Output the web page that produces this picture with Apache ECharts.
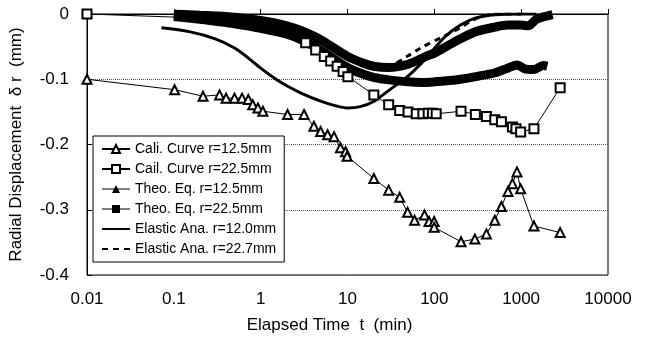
<!DOCTYPE html>
<html>
<head>
<meta charset="utf-8">
<title>Radial Displacement</title>
<script src="https://cdn.jsdelivr.net/npm/echarts@6/dist/echarts.min.js"></script>
<style>
	html, body { margin: 0; padding: 0; background: #fff; }
	#chart { width: 651px; height: 343px; }
</style>
</head>
<body>
<div id="chart"></div>
<script>
/* Cali. Curve r=12.5mm */
var caliT125 = [0.01, 0.102, 0.217, 0.336, 0.40, 0.50, 0.61, 0.72, 0.81, 0.93, 1.06, 2.04, 3.16, 4.1, 4.9, 5.9, 7.0, 8.3, 9.5, 9.9, 20.1, 29.8, 39.9, 49.2, 59.2, 77, 87, 99.5, 99.5, 203, 293, 398, 497, 592, 706, 793, 895, 986, 1403, 2812];
var caliV125 = [-0.1, -0.116, -0.126, -0.124, -0.129, -0.129, -0.129, -0.131, -0.139, -0.144, -0.149, -0.154, -0.154, -0.172, -0.18, -0.185, -0.188, -0.205, -0.211, -0.218, -0.252, -0.270, -0.281, -0.304, -0.316, -0.308, -0.318, -0.318, -0.327, -0.349, -0.345, -0.337, -0.316, -0.295, -0.272, -0.260, -0.242, -0.268, -0.325, -0.335];
/* Cail. Curve r=22.5mm (points under the thick band are not marked) */
var caliT225 = [0.01, 0.5, 1, 1.5, 2, 2.6, 3.3, 4.3, 5.4, 6.4, 7.6, 8.9, 10.1, 20.1, 29.8, 39.9, 49.8, 61.9, 73.8, 85, 95, 105, 203, 297, 398, 497, 592, 793, 870, 986, 1403, 2812];
var caliV225 = [0, -0.008, -0.012, -0.018, -0.025, -0.032, -0.044, -0.055, -0.065, -0.072, -0.080, -0.088, -0.096, -0.124, -0.139, -0.148, -0.150, -0.153, -0.153, -0.152, -0.152, -0.153, -0.149, -0.154, -0.157, -0.162, -0.165, -0.173, -0.176, -0.181, -0.176, -0.113];
/* Theo. Eq. r=12.5mm */
var theoT125 = [0.1, 0.2, 0.3, 0.5, 1, 2, 3, 5, 10, 15, 20, 30, 50, 70, 100, 150, 200, 300, 500, 700, 900, 1100, 1400, 1800, 2000];
var theoV125 = [-0.004, -0.008, -0.011, -0.015, -0.022, -0.031, -0.04, -0.056, -0.082, -0.092, -0.097, -0.101, -0.104, -0.105, -0.104, -0.102, -0.1, -0.096, -0.09, -0.083, -0.078, -0.084, -0.085, -0.079, -0.08];
/* Theo. Eq. r=22.5mm */
var theoT225 = [0.1, 0.2, 0.3, 0.5, 1, 2, 3, 5, 10, 15, 20, 30, 50, 80, 100, 150, 200, 300, 500, 700, 1000, 1200, 1500, 2000, 2300];
var theoV225 = [0, -0.002, -0.003, -0.005, -0.01, -0.018, -0.026, -0.04, -0.065, -0.075, -0.08, -0.082, -0.077, -0.065, -0.06, -0.047, -0.038, -0.027, -0.02, -0.017, -0.017, -0.018, -0.008, -0.003, -0.001];
/* Elastic Ana. r=12.0mm */
var elasT120 = [0.072, 0.15, 0.3, 0.5, 0.7, 1, 1.5, 2, 3, 5, 7, 10, 14, 20, 30, 50, 80, 130, 200, 300, 500, 1000, 1500];
var elasV120 = [-0.021, -0.027, -0.038, -0.052, -0.066, -0.083, -0.1, -0.11, -0.122, -0.134, -0.14, -0.144, -0.142, -0.134, -0.117, -0.095, -0.068, -0.036, -0.017, -0.006, -0.001, 0, 0];
/* Elastic Ana. r=22.7mm */
var elasT227 = [0.1, 0.3, 1, 3, 5, 10, 15, 20, 31, 50, 70, 120, 200, 280, 400, 600, 1000];
var elasV227 = [-0.002, -0.006, -0.015, -0.032, -0.045, -0.063, -0.073, -0.077, -0.078, -0.064, -0.052, -0.036, -0.021, -0.009, -0.002, 0, 0];

var xTicks = [0.01, 0.1, 1, 10, 100, 1000, 10000];
var yTicks = [0, -0.1, -0.2, -0.3, -0.4];

var FONT = "'Liberation Sans', Arial, sans-serif";

function pairs(t, v) {
	var out = [];
	for (var i = 0; i < t.length; i++) {
		out.push([t[i], v[i]]);
	}
	return out;
}

window.onload = function() {
	var chart = echarts.init(document.getElementById('chart'));

	var option = {
		animation: false,
		textStyle: { fontFamily: FONT, color: '#000' },
		grid: {
			left: 85, right: 43, top: 14, bottom: 68,
			show: true, borderColor: '#000', borderWidth: 1
		},
		legend: {
			orient: 'vertical',
			left: 93, top: 136,
			padding: [5, 8],
			itemGap: 4,
			itemWidth: 28,
			itemHeight: 10,
			borderColor: '#000',
			borderWidth: 1,
			backgroundColor: '#fff',
			textStyle: { fontSize: 14, color: '#000', fontFamily: FONT, lineHeight: 16 },
			data: [
				{ name: 'Cali. Curve r=12.5mm' },
				{ name: 'Cail. Curve r=22.5mm' },
				{ name: 'Theo. Eq. r=12.5mm', lineStyle: { width: 1 } },
				{ name: 'Theo. Eq. r=22.5mm', lineStyle: { width: 1 } },
				{ name: 'Elastic Ana. r=12.0mm', itemStyle: { opacity: 0 } },
				{ name: 'Elastic Ana. r=22.7mm', itemStyle: { opacity: 0 } }
			]
		},
		xAxis: {
			type: 'log',
			logBase: 10,
			min: xTicks[0],
			max: xTicks[xTicks.length - 1],
			name: 'Elapsed Time  t  (min)',
			nameLocation: 'middle',
			nameGap: 42,
			nameTextStyle: { fontSize: 17, color: '#000', padding: [0, 36, 0, 0] },
			axisLine: { lineStyle: { color: '#000', width: 1 } },
			axisTick: { inside: true, length: 5, lineStyle: { color: '#000' } },
			axisLabel: {
				fontSize: 17, color: '#000', margin: 16,
				formatter: function(v) { return String(+v.toPrecision(3)); }
			},
			splitLine: { show: false },
			minorTick: { show: false }
		},
		yAxis: {
			type: 'value',
			min: yTicks[yTicks.length - 1],
			max: yTicks[0],
			interval: 0.1,
			name: 'Radial Displacement  δ r  (mm)',
			nameLocation: 'middle',
			nameGap: 62,
			nameTextStyle: { fontSize: 17, color: '#000' },
			axisLine: { show: true, lineStyle: { color: '#000', width: 1 } },
			axisTick: { show: true, inside: true, length: 5, lineStyle: { color: '#000' } },
			axisLabel: {
				fontSize: 17, color: '#000', margin: 18,
				formatter: function(v) { return String(+v.toFixed(1)); }
			},
			splitLine: { show: true, lineStyle: { color: '#555', type: 'dotted', width: 1 } }
		},
		series: [
			{
				name: 'Theo. Eq. r=12.5mm', type: 'line', z: 2,
				data: pairs(theoT125, theoV125),
				smooth: 0.3, symbol: 'triangle', showSymbol: false,
				lineStyle: { color: '#000', width: 9 },
				itemStyle: { color: '#000' }
			},
			{
				name: 'Theo. Eq. r=22.5mm', type: 'line', z: 2,
				data: pairs(theoT225, theoV225),
				smooth: 0.3, symbol: 'rect', showSymbol: false,
				lineStyle: { color: '#000', width: 9 },
				itemStyle: { color: '#000' }
			},
			{
				name: 'Elastic Ana. r=12.0mm', type: 'line', z: 3,
				data: pairs(elasT120, elasV120),
				smooth: 0.3, symbol: 'circle', showSymbol: false,
				lineStyle: { color: '#000', width: 3 },
				itemStyle: { color: '#000' }
			},
			{
				name: 'Elastic Ana. r=22.7mm', type: 'line', z: 3,
				data: pairs(elasT227, elasV227),
				smooth: 0.3, symbol: 'circle', showSymbol: false,
				lineStyle: { color: '#000', width: 3, type: [6, 5] },
				itemStyle: { color: '#000' }
			},
			{
				name: 'Cali. Curve r=12.5mm', type: 'line', z: 4,
				data: pairs(caliT125, caliV125),
				symbol: 'emptyTriangle', symbolSize: 9,
				lineStyle: { color: '#000', width: 1 },
				itemStyle: { color: '#000', borderWidth: 1 }
			},
			{
				name: 'Cail. Curve r=22.5mm', type: 'line', z: 4,
				data: pairs(caliT225, caliV225),
				symbol: 'emptyRect',
				// markers that sit inside the dense theory band are not seen in the figure
				symbolSize: function(val) { return (val[0] > 0.01 && val[0] < 3) ? 0 : 9; },
				lineStyle: { color: '#000', width: 1 },
				itemStyle: { color: '#000', borderWidth: 1 }
			}
		]
	};

	chart.setOption(option);
};
</script>
</body>
</html>
